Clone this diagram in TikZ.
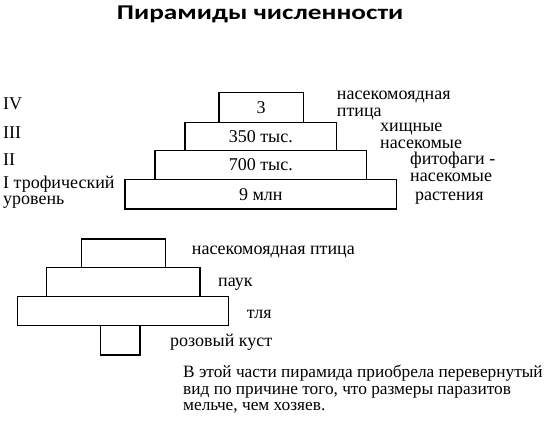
\documentclass[tikz,border=0pt]{standalone}
\usepackage{fontspec}
\setmainfont{Liberation Serif}
\newfontfamily\titlefont{Carlito}
\begin{document}
\begin{tikzpicture}[x=1pt,y=-1pt,
  lvl/.style={draw, line width=1.4pt},
  txt/.style={font=\fontsize{18}{18}\selectfont, inner sep=0pt, anchor=base west},
  note/.style={font=\fontsize{17.3}{17.3}\selectfont, inner sep=0pt, anchor=base west},
  val/.style={font=\fontsize{18}{18}\selectfont, inner sep=0pt}]
\useasboundingbox (0,0) rectangle (547,425);
% title
\node[inner sep=0pt, anchor=base west, font=\titlefont\bfseries\fontsize{21}{21}\selectfont] (title) at (116.7,19.3) {\scalebox{1.3}[1]{Пирамиды численности}};
% upper pyramid
\draw[lvl] (125,179.3) rectangle (396.7,209) node[midway, val] (v1) {9 млн};
\draw[lvl] (155,150.7) rectangle (366.7,179.3) node[midway, val] (v2) {700 тыс.};
\draw[lvl] (185,122.3) rectangle (336.7,150.7) node[midway, val] (v3) {350 тыс.};
\draw[lvl] (219,92.7) rectangle (303.3,122.3) node[midway, val] (v4) {3};
% left labels
\node[txt] (l4) at (3,110) {IV};
\node[txt] (l3) at (3,138.3) {III};
\node[txt] (l2) at (3,166) {II};
\node[txt] (l1) at (3,188.3) {I трофический};
\node[txt] (l1b) at (3,204.3) {уровень};
% right labels
\node[txt] (r4) at (336.7,100) {насекомоядная};
\node[txt] (r4b) at (336.7,116.7) {птица};
\node[txt] (r3) at (380,131.7) {хищные};
\node[txt] (r3b) at (380,148.3) {насекомые};
\node[txt] (r2) at (410,165) {фитофаги -};
\node[txt] (r2b) at (410,181.7) {насекомые};
\node[txt] (r1) at (415,200.7) {растения};
% lower pyramid
\draw[lvl] (81.7,239) rectangle (165.7,267.7);
\draw[lvl] (46.7,267.7) rectangle (200,296.7);
\draw[lvl] (17.7,296.7) rectangle (228.3,325.7);
\draw[lvl] (100.7,325.7) rectangle (140,355);
\node[txt] (b4) at (191.7,254.3) {насекомоядная птица};
\node[txt] (b3) at (218,286.7) {паук};
\node[txt] (b2) at (246.7,318.3) {тля};
\node[txt] (b1) at (170,346.7) {розовый куст};
% note
\node[note] (n1) at (183,377.7) {В этой части пирамида приобрела перевернутый};
\node[note] (n2) at (183,394.3) {вид по причине того, что размеры паразитов};
\node[note] (n3) at (183,410.5) {мельче, чем хозяев.};
\end{tikzpicture}
\end{document}
